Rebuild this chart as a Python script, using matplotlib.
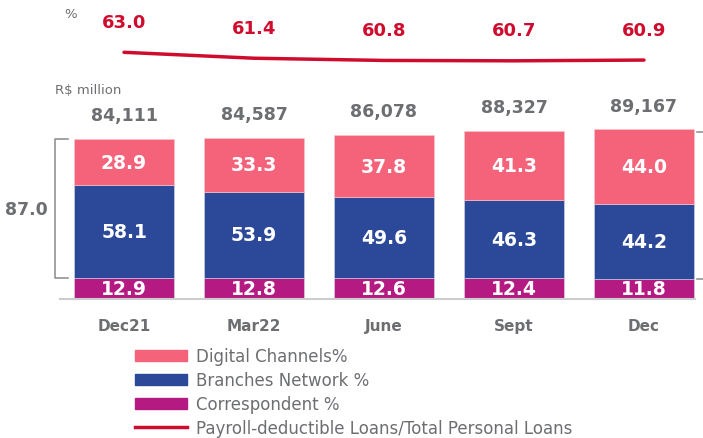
import matplotlib.pyplot as plt
from matplotlib.patches import Patch
from matplotlib.lines import Line2D

periods = ["Dec21", "Mar22", "June", "Sept", "Dec"]
totals = [84111, 84587, 86078, 88327, 89167]
digital = [28.9, 33.3, 37.8, 41.3, 44.0]
branches = [58.1, 53.9, 49.6, 46.3, 44.2]
correspondent = [12.9, 12.8, 12.6, 12.4, 11.8]
payroll = [63.0, 61.4, 60.8, 60.7, 60.9]

pink = "#F4637A"
blue = "#2B4899"
magenta = "#B41A81"
red = "#D00C2E"
gray = "#6D6E71"

plt.rcParams['font.family'] = ['DejaVu Sans']

fig = plt.figure(figsize=(7.03, 4.39), dpi=100)
ax = fig.add_axes([0, 0, 1, 1])
ax.set_xlim(-0.954, 4.454)
ax.set_ylim(-72.97, 157.5)
ax.axis("off")

x = list(range(len(periods)))
tot_k = [t / 1000 for t in totals]
corr_h = [t * c / 100 for t, c in zip(tot_k, correspondent)]
bran_h = [t * b / 100 for t, b in zip(tot_k, branches)]
dig_h = [t - c - b for t, c, b in zip(tot_k, corr_h, bran_h)]

w = 0.77
ax.bar(x, corr_h, w, color=magenta, edgecolor="#d9d9e8", linewidth=0.4)
ax.bar(x, bran_h, w, bottom=corr_h, color=blue, edgecolor="#d9d9e8", linewidth=0.4)
b2 = [c + b for c, b in zip(corr_h, bran_h)]
ax.bar(x, dig_h, w, bottom=b2, color=pink, edgecolor="#f7c9d0", linewidth=0.4)

lab = dict(ha="center", va="center", color="white", fontsize=13.5, fontweight="bold")
for i in x:
    ax.text(i, corr_h[i] / 2, f"{correspondent[i]:.1f}", **lab)
    ax.text(i, corr_h[i] + bran_h[i] / 2, f"{branches[i]:.1f}", **lab)
    ax.text(i, b2[i] + dig_h[i] / 2, f"{digital[i]:.1f}", **lab)
    ax.annotate(f"{totals[i]:,}", (i, tot_k[i]), xytext=(0, 17), textcoords="offset points",
                ha="center", va="center", color=gray, fontsize=12.5, fontweight="bold")
    ax.text(i, -13.8, periods[i], ha="center", va="center", color=gray,
            fontsize=11, fontweight="bold")

ax.axhline(0, xmin=0.085, xmax=0.989, color="#cccccc", lw=1.5)

# bracket for digital + branches on first bar
bx0, bx1 = -0.531, -0.431
ax.plot([bx1, bx0, bx0, bx1], [tot_k[0], tot_k[0], corr_h[0], corr_h[0]], color="#8a8a8a", lw=1.1)
ax.text(-0.75, (tot_k[0] + corr_h[0]) / 2, "87.0", ha="center", va="center",
        color=gray, fontsize=12.5, fontweight="bold")
# right ticks
for yv in [tot_k[-1] * 0.985, corr_h[-1]]:
    ax.plot([4.41, 4.46], [yv, yv], color="#8a8a8a", lw=1.1)

ax.text(-0.277, 110.2, "R$ million", ha="center", va="center", color=gray, fontsize=9.5)

ax2 = ax.twinx()
ax2.set_ylim(63 - (439 - 53.3) / 3.7, 63 + 53.3 / 3.7)
ax2.axis("off")
ax2.plot(x, payroll, color=red, lw=2.5, solid_capstyle="round")
for i in x:
    ax2.annotate(f"{payroll[i]:.1f}", (i, payroll[i]), xytext=(0, 22), textcoords="offset points",
                 ha="center", va="center", color=red, fontsize=13, fontweight="bold")
ax.text(-0.408, 150.1, "%", ha="center", va="center", color=gray, fontsize=9.5)

handles = [Patch(color=pink), Patch(color=blue), Patch(color=magenta),
           Line2D([0], [0], color=red, lw=2.5)]
labels = ["Digital Channels%", "Branches Network %", "Correspondent %",
          "Payroll-deductible Loans/Total Personal Loans"]
ax.legend(handles, labels, loc="upper left", bbox_to_anchor=(135 / 703, 1 - 348 / 439),
          frameon=False, borderpad=0, borderaxespad=0, fontsize=12, handlelength=3.1,
          handleheight=0.66, handletextpad=0.55, labelspacing=0.36, labelcolor=gray)

fig.savefig("out.png", dpi=100)
